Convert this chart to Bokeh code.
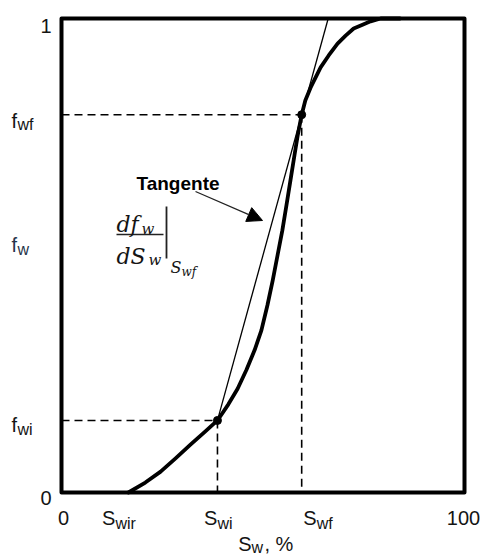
from bokeh.plotting import figure
from bokeh.models import Range1d, Label, Arrow, NormalHead
from bokeh.embed import file_html
from bokeh.resources import INLINE

# Fractional flow curve f_w(S_w), S_w in %
sw = [16.6, 20.8, 24.6, 28.3, 32.0, 35.7, 38.7, 41.4, 43.7, 45.9, 47.9, 49.6,
      51.1, 52.4, 53.6, 54.8, 55.8, 56.8, 57.8, 58.6, 59.6, 60.5, 61.8, 64.3,
      66.3, 68.5, 70.5, 72.5, 74.7, 76.7, 79.2, 84.0]
fw = [0.000, 0.021, 0.044, 0.072, 0.101, 0.129, 0.152, 0.186, 0.219, 0.259,
      0.300, 0.342, 0.395, 0.447, 0.500, 0.553, 0.605, 0.658, 0.711, 0.753,
      0.797, 0.827, 0.854, 0.897, 0.922, 0.947, 0.964, 0.979, 0.987, 0.994,
      1.000, 1.000]

# Characteristic saturations and flows
sw_ir = 16.6
sw_i, fw_i = 38.7, 0.152
sw_f, fw_f = 59.6, 0.797

x_lim = [0, 100]
y_lim = [0, 1]
x_ticks = ["0", "100"]
y_ticks = ["0", "1"]

W, H = 483, 556
L, R, T, B = 61, 19, 18, 64          # page margins around the plotting box
DX = (x_lim[1] - x_lim[0]) / (W - L - R)   # data units per pixel, x
DY = (y_lim[1] - y_lim[0]) / (H - T - B)   # data units per pixel, y


def sx(px):
    return x_lim[0] + (px - L) * DX


def sy(py):
    return y_lim[0] + (H - B - py) * DY


# The frame spans the whole page so the labels around the box are not clipped
p = figure(width=W, height=H,
           x_range=Range1d(sx(0), sx(W)), y_range=Range1d(sy(H), sy(0)),
           x_axis_type=None, y_axis_type=None,
           output_backend="svg", toolbar_location=None,
           min_border_left=0, min_border_right=0,
           min_border_top=0, min_border_bottom=0)
p.grid.visible = False
p.outline_line_color = None
p.background_fill_color = "white"
p.border_fill_color = "white"

# dashed guides to the two marked points
p.segment(x0=[x_lim[0], sw_i, x_lim[0], sw_f], y0=[fw_i, fw_i, fw_f, fw_f],
          x1=[sw_i, sw_i, sw_f, sw_f], y1=[fw_i, y_lim[0], fw_f, y_lim[0]],
          line_color="black", line_width=1.6, line_dash="8 5")

# tangent from (Swi, fwi) through (Swf, fwf) up to f_w = 1
slope = (fw_f - fw_i) / (sw_f - sw_i)
x_top = sw_i + (y_lim[1] - fw_i) / slope
p.line([sw_i, x_top], [fw_i, y_lim[1]], line_color="black", line_width=1.3)

# fractional flow curve
p.line(sw, fw, line_color="black", line_width=3.8, line_join="round", line_cap="round")

p.scatter([sw_i, sw_f], [fw_i, fw_f], size=8, color="black")

# plotting box
p.quad(left=[x_lim[0]], right=[x_lim[1]], bottom=[y_lim[0]], top=[y_lim[1]],
       fill_color=None, line_color="black", line_width=4, line_join="round")

TXT = "#141414"
SANS = "Liberation Sans"
SERIF = "DejaVu Serif"


def lab(x, y, text, size, align="left", xoff=0, font=SANS, style="normal", color=TXT):
    p.add_layout(Label(x=x, y=y, text=text, text_font=font, text_font_size=f"{size}px",
                       text_font_style=style, text_align=align, text_baseline="alphabetic",
                       x_offset=xoff, text_color=color))


# x tick labels
base_x = sy(517)
sub_x = sy(523)
lab(x_lim[0], base_x, x_ticks[0], 20, align="center", xoff=2)
lab(x_lim[1], base_x, x_ticks[1], 20, align="center", xoff=-1)
lab(sw_ir, base_x, "S", 20, align="right", xoff=-13)
lab(sw_ir, sub_x, "wir", 16, align="left", xoff=-13)
lab(sw_i, base_x, "S", 20, align="right", xoff=0)
lab(sw_i, sub_x, "wi", 16, align="left", xoff=0)
lab(sw_f, base_x, "S", 20, align="right", xoff=15)
lab(sw_f, sub_x, "wf", 16, align="left", xoff=15)

# x axis title
lab(sx(251), sy(543), "S", 20, align="right")
lab(sx(251), sy(547), "w", 16, align="left")
lab(sx(264), sy(543), ", %", 20, align="left")

# y tick labels
lab(sx(51), y_lim[1] - 7 * DY, y_ticks[1], 20, align="right")
lab(sx(51), y_lim[0] - 5 * DY, y_ticks[0], 20, align="right")
lab(sx(11), fw_f - 6 * DY, "f", 20)
lab(sx(17), fw_f - 10 * DY, "wf", 16)
lab(sx(11), fw_i - 5 * DY, "f", 20)
lab(sx(17), fw_i - 9 * DY, "wi", 16)
lab(sx(11), sy(244), "f", 20, color="#26344a")
lab(sx(17), sy(249), "w", 16, color="#26344a")

# tangent annotation
lab(sx(136), sy(183), "Tangente", 19, style="bold", color="black")
p.add_layout(Arrow(x_start=sx(195), y_start=sy(191), x_end=sx(262), y_end=sy(220),
                   line_width=1.3, line_color="#222222",
                   end=NormalHead(size=15, fill_color="black", line_color="black")))

# derivative at the front saturation
lab(sx(116), sy(224), "df", 22, font=SERIF, style="italic")
lab(sx(141), sy(228), "w", 15, font=SERIF, style="italic")
lab(sx(116), sy(256), "dS", 22, font=SERIF, style="italic")
lab(sx(148), sy(259), "w", 15, font=SERIF, style="italic")
lab(sx(170), sy(267), "S", 16, font=SERIF, style="italic")
lab(sx(181), sy(271), "wf", 12, font=SERIF, style="italic")
p.line([sx(116), sx(163)], [sy(234), sy(234)], line_color="#222222", line_width=1.5)
p.line([sx(166), sx(166)], [sy(206), sy(258)], line_color="#222222", line_width=1.8)

open("out.html", "w").write(file_html(p, INLINE))
